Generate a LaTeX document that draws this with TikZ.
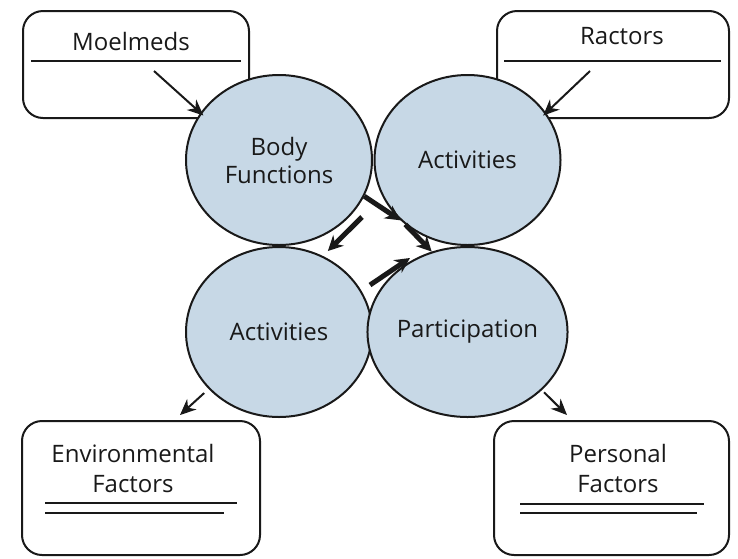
\documentclass[tikz,border=0pt]{standalone}
\usepackage{fontspec}
\setmainfont{Open Sans}
\usetikzlibrary{positioning,arrows.meta,shapes.geometric}
\definecolor{bubble}{RGB}{199,216,230}
\definecolor{ink}{RGB}{25,25,25}
\tikzset{
  >={Stealth},
  link/.style ={line width=1pt, -{Stealth[length=8pt,width=7pt]}},
  flow/.style ={line width=2.5pt, -{Stealth[length=7.5pt,width=7.5pt]}},
}

\begin{document}
\begin{tikzpicture}[x=0.5pt, y=-0.5pt, line join=round, ink,
  comp/.style={ellipse, draw=ink, line width=1pt, fill=bubble, inner sep=0pt,
    minimum width=93pt, minimum height=85pt, align=center, text=ink,
    font=\fontsize{12}{14}\selectfont},
  card/.style={draw=ink, line width=1pt, rounded corners=10pt, inner sep=0pt},
  cardtext/.style={text=ink, align=center, font=\fontsize{12}{15}\selectfont},
  divider/.style={line width=0.8pt}
]

\useasboundingbox (0,0) rectangle (738,558);

%--- Factor cards (drawn first, the circles sit on top) ---
\node[card, minimum width=113pt, minimum height=53.5pt] (moel) at (136,64.5) {};
\node[card, minimum width=116pt, minimum height=53.5pt] (ract) at (613,64.5) {};
\node[card, minimum width=119pt, minimum height=67pt] (env) at (141,488) {};
\node[card, minimum width=117.5pt, minimum height=67pt] (pers) at (611.5,488) {};

\node[cardtext] (moel-t) at (131,41) {Moelmeds};
\node[cardtext] (ract-t) at (622,36) {Ractors};
\node[cardtext] (env-t) at (133,468) {Environmental\\Factors};
\node[cardtext] (pers-t) at (618,468) {Personal\\Factors};

% rules under the headings
\draw[divider] (31,61) -- (241,61);
\draw[divider] (504,61) -- (721,61);
\draw[divider] (45,503) -- (237,503);
\draw[divider] (45,513) -- (224,513);
\draw[divider] (520,504) -- (704,504);
\draw[divider] (520,513) -- (697,513);

%--- The four components ---
\node[comp] (bf)   at (279,160)   {Body\\Functions};
\node[comp] (act1) at (467.5,160) {Activities};
\node[comp] (act2) at (279,332)   {Activities};
\node[comp] (part) at (467.5,332) {Participation};

%--- Links in the middle ---
\coordinate (bf-out)   at (362,217);
\coordinate (act2-out) at (370,285);
\coordinate (part-in)  at (410,258);

\draw[flow] (bf.-23) -- (act1.222);
\draw[flow] (act1.226) -- (part.114);
\draw[flow, shorten >=3.5pt] (bf-out) -- (act2.60);
\draw[flow] (act2-out) -- (part-in);

%--- Links to and from the cards ---
\coordinate (moel-tail) at (154,71);
\coordinate (ract-tail) at (590,71);
\coordinate (env-head)  at (180,415);
\coordinate (pers-head) at (567,415);

\draw[link, shorten >=-2pt] (moel-tail) -- (bf.149);
\draw[link, shorten >=-2pt] (ract-tail) -- (act1.31);
\draw[link, shorten <=3pt] (act2.219) -- (env-head);
\draw[link, shorten <=1.5pt] (part.-38) -- (pers-head);

\end{tikzpicture}
\end{document}
